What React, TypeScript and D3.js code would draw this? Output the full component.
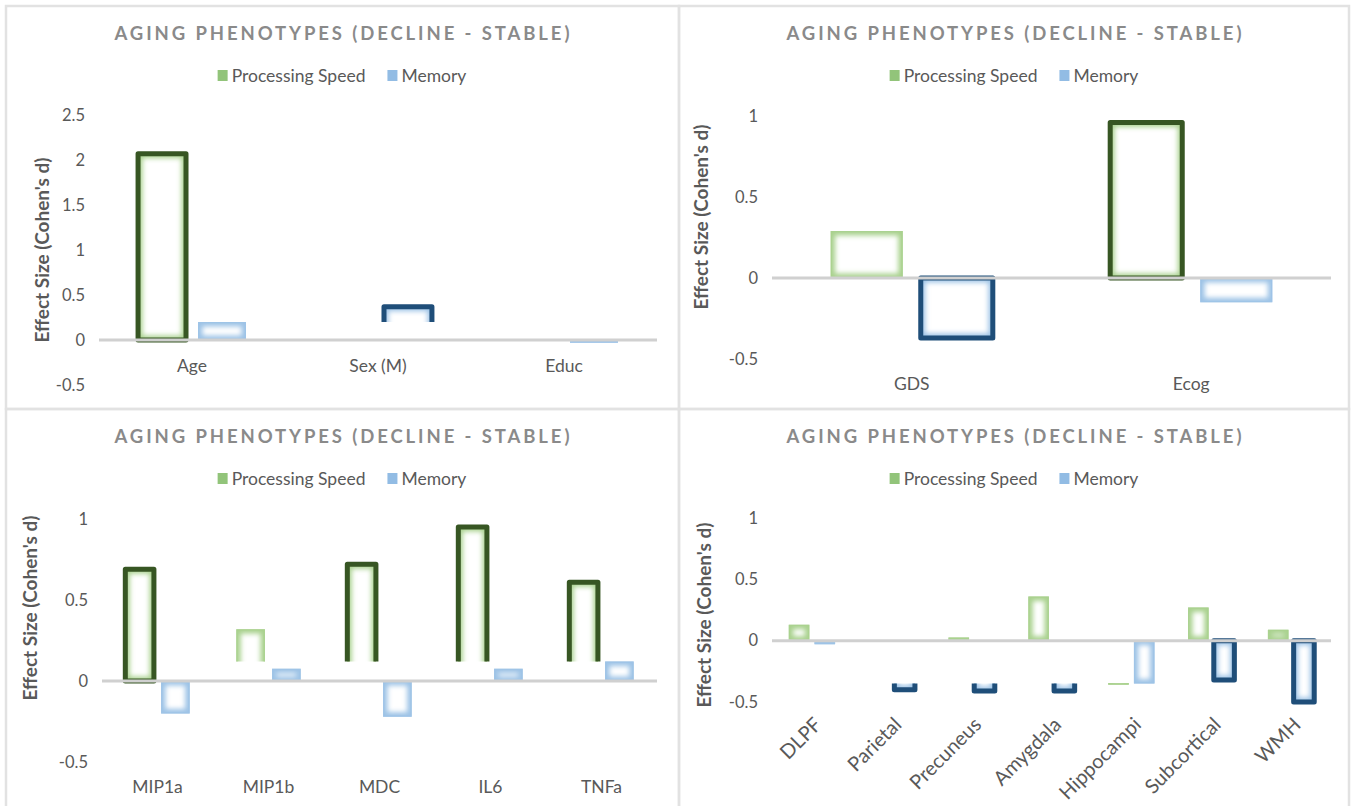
import React, { useEffect, useRef } from "react";
import * as d3 from "d3";

// ---------- DATA ----------
const seriesNames = ["Processing Speed", "Memory"];
const titleText = "AGING PHENOTYPES (DECLINE - STABLE)";
const yAxisTitle = "Effect Size (Cohen's d)";

const panel1Categories = ["Age", "Sex (M)", "Educ"];
const panel1Speed = [2.07, 0, 0];
const panel1Memory = [0.2, 0.37, -0.03];
const panel1SpeedSig = [true, false, false];
const panel1MemorySig = [false, true, false];
const panel1SpeedShownFrom = [0, 0, 0];
const panel1MemoryShownFrom = [0, 0.2, 0];
const panel1Ticks = [-0.5, 0, 0.5, 1, 1.5, 2, 2.5];

const panel2Categories = ["GDS", "Ecog"];
const panel2Speed = [0.29, 0.96];
const panel2Memory = [-0.37, -0.15];
const panel2SpeedSig = [false, true];
const panel2MemorySig = [true, false];
const panel2SpeedShownFrom = [0, 0];
const panel2MemoryShownFrom = [0, 0];
const panel2Ticks = [-0.5, 0, 0.5, 1];

const panel3Categories = ["MIP1a", "MIP1b", "MDC", "IL6", "TNFa"];
const panel3Speed = [0.69, 0.32, 0.72, 0.95, 0.61];
const panel3Memory = [-0.2, 0.075, -0.22, 0.075, 0.12];
const panel3SpeedSig = [true, false, true, true, true];
const panel3MemorySig = [false, false, false, false, false];
const panel3SpeedShownFrom = [0, 0.12, 0.12, 0.12, 0.12];
const panel3MemoryShownFrom = [0, 0, 0, 0, 0];
const panel3Ticks = [-0.5, 0, 0.5, 1];

const panel4Categories = ["DLPF", "Parietal", "Precuneus", "Amygdala", "Hippocampi", "Subcortical", "WMH"];
const panel4Speed = [0.13, 0.005, 0.025, 0.36, -0.36, 0.27, 0.09];
const panel4Memory = [-0.03, -0.4, -0.41, -0.41, -0.35, -0.32, -0.5];
const panel4SpeedSig = [false, false, false, false, false, false, false];
const panel4MemorySig = [false, true, true, true, false, true, true];
const panel4SpeedShownFrom = [0, 0, 0, 0, -0.345, 0, 0];
const panel4MemoryShownFrom = [0, -0.35, -0.35, -0.35, 0, 0, 0];
const panel4Ticks = [-0.5, 0, 0.5, 1];

// ---------- LAYOUT / STYLE ----------
const W = 1353;
const H = 806;
const FONT = "Lato, 'Open Sans', sans-serif";
const LIGHT = ["#a9d18e", "#9dc3e6"];
const SWATCH = ["#92c47a", "#92bce4"];
const DARK = ["#375623", "#1f4e79"];
const TEXT = "#595959";

const panels = [
  {
    categories: panel1Categories, speed: panel1Speed, memory: panel1Memory,
    speedSig: panel1SpeedSig, memorySig: panel1MemorySig,
    speedFrom: panel1SpeedShownFrom, memoryFrom: panel1MemoryShownFrom, ticks: panel1Ticks,
    box: [6, 6, 673, 403], xr: [99, 657], yr: [385, 115], cx: 342,
    titleY: 40, legendY: 76, yTitleX: 42, yTitleY: 250, catY: 372, rotate: false,
  },
  {
    categories: panel2Categories, speed: panel2Speed, memory: panel2Memory,
    speedSig: panel2SpeedSig, memorySig: panel2MemorySig,
    speedFrom: panel2SpeedShownFrom, memoryFrom: panel2MemoryShownFrom, ticks: panel2Ticks,
    box: [679, 6, 670, 403], xr: [772, 1331], yr: [359, 116], cx: 1014,
    titleY: 40, legendY: 76, yTitleX: 701, yTitleY: 217, catY: 390, rotate: false,
  },
  {
    categories: panel3Categories, speed: panel3Speed, memory: panel3Memory,
    speedSig: panel3SpeedSig, memorySig: panel3MemorySig,
    speedFrom: panel3SpeedShownFrom, memoryFrom: panel3MemoryShownFrom, ticks: panel3Ticks,
    box: [6, 409, 673, 420], xr: [102, 657], yr: [762, 519], cx: 342,
    titleY: 443, legendY: 479, yTitleX: 30, yTitleY: 608, catY: 793, rotate: false,
  },
  {
    categories: panel4Categories, speed: panel4Speed, memory: panel4Memory,
    speedSig: panel4SpeedSig, memorySig: panel4MemorySig,
    speedFrom: panel4SpeedShownFrom, memoryFrom: panel4MemoryShownFrom, ticks: panel4Ticks,
    box: [679, 409, 670, 420], xr: [772, 1331], yr: [702, 518], cx: 1014,
    titleY: 443, legendY: 479, yTitleX: 704, yTitleY: 615, catY: 721, rotate: true,
  },
];

export default function App() {
  const ref = useRef<SVGSVGElement | null>(null);

  useEffect(() => {
    const svg = d3.select(ref.current);
    svg.selectAll("*").remove();
    const defs = svg.append("defs");
    defs
      .append("filter")
      .attr("id", "glow")
      .attr("filterUnits", "userSpaceOnUse")
      .attr("x", 0).attr("y", 0).attr("width", W).attr("height", H)
      .append("feGaussianBlur")
      .attr("stdDeviation", 2.6);

    svg.append("rect").attr("width", W).attr("height", H).attr("fill", "#fff");

    panels.forEach((p, pi) => {
      const g = svg.append("g");
      // panel border
      g.append("rect")
        .attr("x", p.box[0]).attr("y", p.box[1])
        .attr("width", p.box[2]).attr("height", p.box[3])
        .attr("fill", "none").attr("stroke", "#e2e2e2").attr("stroke-width", 2.5);

      const x0 = d3.scaleBand<string>()
        .domain(p.categories)
        .range(p.xr as [number, number])
        .paddingInner(0.42)
        .paddingOuter(0.21);
      const x1 = d3.scaleBand<string>()
        .domain(seriesNames)
        .range([0, x0.bandwidth()])
        .paddingInner(0.2);
      const dom = d3.extent(p.ticks) as [number, number];
      const y = d3.scaleLinear().domain(dom).range(p.yr as [number, number]);

      // title
      g.append("text")
        .attr("x", p.cx).attr("y", p.titleY)
        .attr("text-anchor", "middle")
        .attr("font-family", FONT).attr("font-weight", 700).attr("font-size", 18.5)
        .attr("fill", "#8a8a8a")
        .attr("textLength", 455).attr("lengthAdjust", "spacing")
        .text(titleText);

      // legend
      const legend = g.append("g");
      const items = legend.selectAll("g").data(seriesNames).join("g");
      let offset = 0;
      const widths: number[] = [];
      items.each(function (d, i) {
        const it = d3.select(this);
        it.append("rect").attr("x", 0).attr("y", -6).attr("width", 10).attr("height", 11)
          .attr("fill", SWATCH[i]);
        const t = it.append("text").attr("x", 14).attr("y", 0).attr("dy", "0.35em")
          .attr("font-family", FONT).attr("font-size", 17.5).attr("fill", TEXT).text(d);
        const tw = (t.node() as SVGTextElement).getComputedTextLength();
        widths.push(14 + tw);
      });
      const gap = 22;
      const total = d3.sum(widths) + gap * (widths.length - 1);
      const start = p.cx - total / 2;
      items.attr("transform", (_d, i) => {
        const tx = start + offset;
        offset += widths[i] + gap;
        return `translate(${tx},${p.legendY})`;
      });

      // y ticks
      g.selectAll(".tick").data(p.ticks).join("text")
        .attr("x", p.xr[0] - 14).attr("y", (d) => y(d)).attr("dy", "0.35em")
        .attr("text-anchor", "end")
        .attr("font-family", FONT).attr("font-size", 16.5).attr("fill", TEXT)
        .text((d) => String(d));

      // y title
      g.append("text")
        .attr("transform", `translate(${p.yTitleX},${p.yTitleY}) rotate(-90)`)
        .attr("text-anchor", "middle").attr("dy", "0.35em")
        .attr("font-family", FONT).attr("font-weight", 700).attr("font-size", 19)
        .attr("fill", TEXT)
        .text(yAxisTitle);

      // bars
      const seriesVals = [p.speed, p.memory];
      const seriesSig = [p.speedSig, p.memorySig];
      const seriesFrom = [p.speedFrom, p.memoryFrom];
      seriesNames.forEach((sName, si) => {
        p.categories.forEach((cat, ci) => {
          const v = seriesVals[si][ci];
          const from = seriesFrom[si][ci];
          if (Math.abs(v - from) < 1e-6) return;
          const xl = (x0(cat) ?? 0) + (x1(sName) ?? 0);
          const bw = x1.bandwidth();
          const yTop = y(Math.max(v, from));
          const yBot = y(Math.min(v, from));
          const h = Math.max(yBot - yTop, 1);
          const clipId = `clip-${pi}-${si}-${ci}`;
          defs.append("clipPath").attr("id", clipId)
            .append("rect").attr("x", xl).attr("y", yTop).attr("width", bw).attr("height", h);
          const bg = g.append("g");
          bg.append("rect").attr("x", xl).attr("y", yTop).attr("width", bw).attr("height", h)
            .attr("fill", "#ffffff");
          const cut = from !== 0;
          let gy = yTop, gh = h;
          if (cut) {
            if (v > from) { gh = h + 12; } else { gy = yTop - 12; gh = h + 12; }
          }
          const cg = bg.append("g").attr("clip-path", `url(#${clipId})`);
          cg.append("rect").attr("x", xl).attr("y", gy).attr("width", bw).attr("height", gh)
            .attr("fill", "none").attr("stroke", LIGHT[si]).attr("stroke-width", 9)
            .attr("filter", "url(#glow)");
          cg.append("rect").attr("x", xl).attr("y", gy).attr("width", bw).attr("height", gh)
            .attr("fill", "none").attr("stroke", LIGHT[si]).attr("stroke-width", 2.5)
            .attr("opacity", 0.85);

          if (seriesSig[si][ci]) {
            const yv = y(v);
            const yf = y(from);
            if (!cut) {
              bg.append("rect").attr("x", xl).attr("y", yTop).attr("width", bw).attr("height", h)
                .attr("fill", "none").attr("stroke", DARK[si]).attr("stroke-width", 5)
                .attr("stroke-linejoin", "round");
            } else {
              const path = d3.path();
              path.moveTo(xl, yf);
              path.lineTo(xl, yv);
              path.lineTo(xl + bw, yv);
              path.lineTo(xl + bw, yf);
              bg.append("path").attr("d", path.toString())
                .attr("fill", "none").attr("stroke", DARK[si]).attr("stroke-width", 5)
                .attr("stroke-linejoin", "round");
            }
          }
        });
      });

      // zero line
      g.append("line")
        .attr("x1", p.xr[0]).attr("x2", p.xr[1])
        .attr("y1", y(0)).attr("y2", y(0))
        .attr("stroke", "#d0d0d0").attr("stroke-width", 3);

      // category labels
      const labels = g.selectAll(".cat").data(p.categories).join("text")
        .attr("font-family", FONT).attr("fill", TEXT)
        .text((d) => d);
      if (p.rotate) {
        labels
          .attr("font-size", 20)
          .attr("text-anchor", "end")
          .attr("dy", "0.35em")
          .attr("transform", (d) => `translate(${(x0(d) ?? 0) + x0.bandwidth() / 2 + 6},${p.catY}) rotate(-45)`);
      } else {
        labels
          .attr("font-size", 17.5)
          .attr("text-anchor", "middle")
          .attr("x", (d) => (x0(d) ?? 0) + x0.bandwidth() / 2)
          .attr("y", p.catY);
      }
    });
  }, []);

  return (
    <svg
      ref={ref}
      width={W}
      height={H}
      style={{ position: "absolute", left: 0, top: 0, display: "block" }}
    />
  );
}
